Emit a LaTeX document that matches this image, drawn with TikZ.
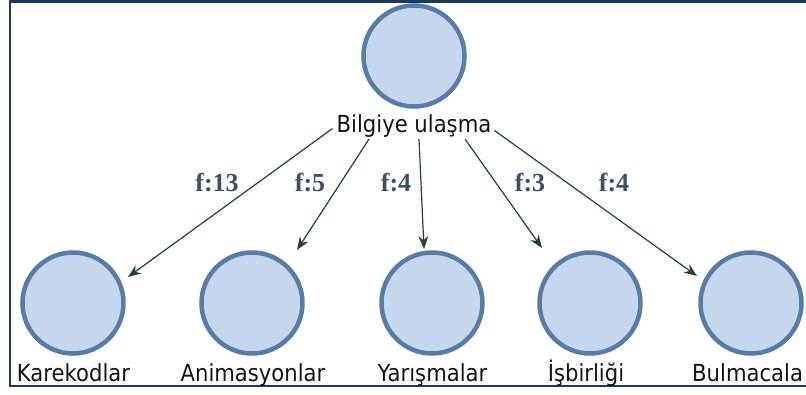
\documentclass[tikz,border=0pt]{standalone}
\usepackage{fontspec}
\setmainfont{DejaVu Sans}[FakeStretch=0.9]
\newfontfamily\flabfont{Liberation Serif}
\usetikzlibrary{arrows.meta,calc}
\definecolor{cfill}{RGB}{198,214,236}
\definecolor{cline}{RGB}{88,124,166}
\definecolor{arrc}{RGB}{40,64,54}
\definecolor{fcol}{RGB}{62,80,98}
\definecolor{framec}{RGB}{30,56,92}
\definecolor{txtc}{RGB}{20,20,20}
\begin{document}
\begin{tikzpicture}[x=1pt,y=-1pt,
  circ/.style={circle,draw=cline,fill=cfill,line width=4.5pt,minimum size=101pt,inner sep=0pt},
  lab/.style={font=\fontsize{23.5}{26}\selectfont,text=txtc,inner sep=0pt,anchor=base},
  flab/.style={font=\flabfont\bfseries\fontsize{26}{28}\selectfont,text=fcol,inner sep=0pt},
  arr/.style={draw=arrc,line width=1.2pt,-{Stealth[length=13pt,width=10pt]}}]
\useasboundingbox (0,0) rectangle (806,394);
\draw[framec,line width=2.5pt] (806,1.5) -- (10,1.5) -- (10,386) -- (806,386);

\node[circ] (top) at (414,56) {};
\node[lab] (tl) at (414,132) {Bilgiye ulaşma};

\node[circ] (c1) at (73,303) {};
\node[circ] (c2) at (252,303) {};
\node[circ] (c3) at (432,303) {};
\node[circ] (c4) at (590,303) {};
\node[circ] (c5) at (751,303) {};

\node[lab] (l1) at (73.5,381) {Karekodlar};
\node[lab] (l2) at (253,381) {Animasyonlar};
\node[lab] (l3) at (432.5,381) {Yarışmalar};
\node[lab] (l4) at (586,381) {İşbirliği};
\node[lab,anchor=base west] (l5) at (692,381) {Bulmacala};

\draw[arr] ([xshift=-4pt,yshift=-3pt]tl.west) -- ($(c1)+(55,-26)$);
\draw[arr] ([xshift=-45pt,yshift=-2pt]tl.south) -- ($(c2)+(45,-53)$);
\draw[arr] ([xshift=5pt,yshift=-2pt]tl.south) -- ($(c3)+(-8,-54)$);
\draw[arr] ([xshift=51pt,yshift=-2pt]tl.south) -- ($(c4)+(-48,-55)$);
\draw[arr] ([xshift=3pt,yshift=-5pt]tl.east) -- ($(c5)+(-54,-27)$);

\node[flab] (f1) at (217,183) {f:13};
\node[flab] (f2) at (310,183) {f:5};
\node[flab] (f3) at (396,183) {f:4};
\node[flab] (f4) at (530,183) {f:3};
\node[flab] (f5) at (614,183) {f:4};
\end{tikzpicture}
\end{document}
